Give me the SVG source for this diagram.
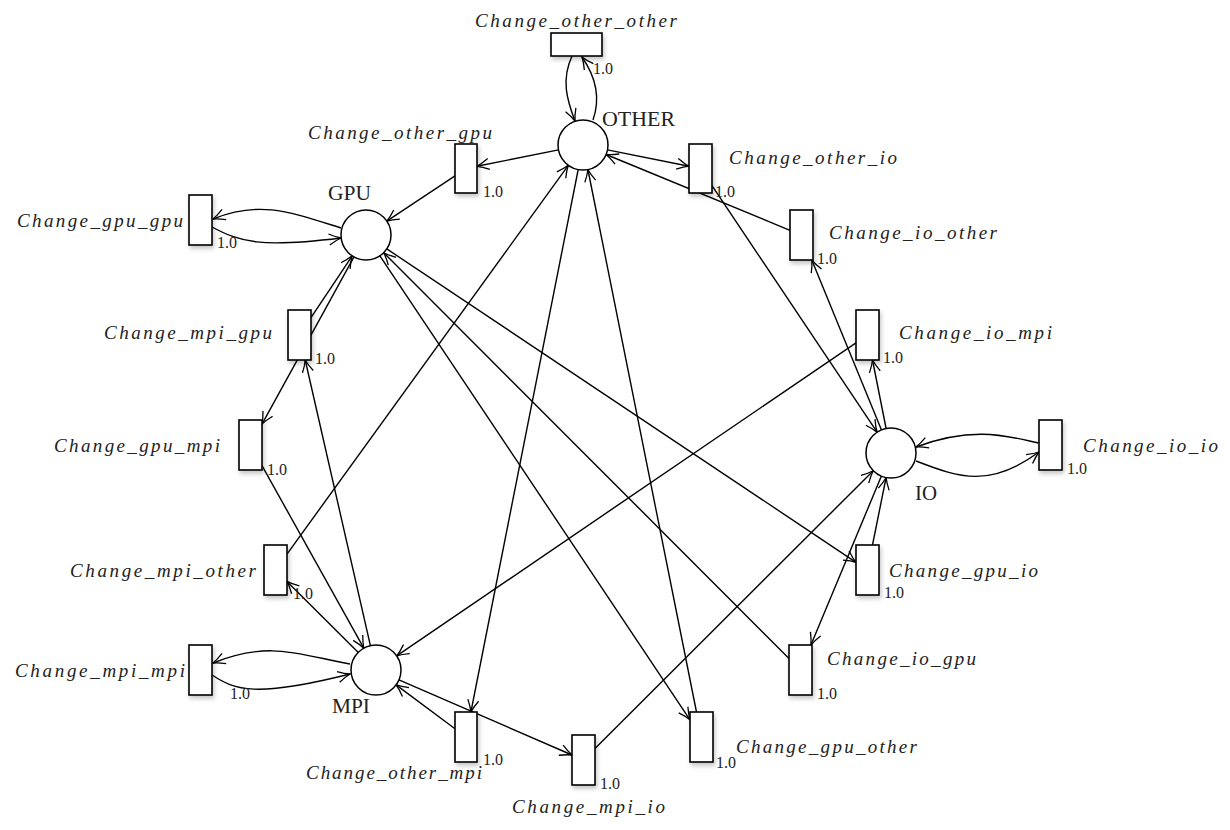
<svg xmlns="http://www.w3.org/2000/svg" width="1230" height="830" viewBox="0 0 1230 830">
<style>
.arc{fill:none;stroke:#000;stroke-width:1.4;marker-end:url(#arr)}
.pl{fill:#fff;stroke:#000;stroke-width:1.5}
.tr{fill:#fff;stroke:#000;stroke-width:1.6;filter:url(#sh)}
.lbl{font-family:"Liberation Serif","DejaVu Serif",serif;font-style:italic;font-size:19px;fill:#222}
.pn{font-family:"Liberation Serif","DejaVu Serif",serif;font-size:20px;fill:#222}
.w{font-family:"Liberation Serif","DejaVu Serif",serif;font-size:16px;fill:#222}
</style>
<defs>
<marker id="arr" markerUnits="userSpaceOnUse" markerWidth="20" markerHeight="20" refX="0" refY="0" orient="auto" overflow="visible">
<path d="M-12,-5.5 Q-5,-1.5 0,0 Q-5,1.5 -12,5.5" fill="none" stroke="#000" stroke-width="1.3"/>
</marker>
<filter id="sh" x="-40%" y="-30%" width="180%" height="160%">
<feDropShadow dx="1.5" dy="3" stdDeviation="2" flood-color="#000" flood-opacity="0.22"/>
</filter>
</defs>
<rect width="1230" height="830" fill="#fff"/>
<g id="connectors">
<path class="arc" d="M558.5,149.9 L477,166.3"/>
<path class="arc" d="M455,175.8 L386.8,221.2"/>
<path class="arc" d="M607.5,149.9 L689,166.2"/>
<path class="arc" d="M712,185.7 L877.1,432.2"/>
<path class="arc" d="M881.5,429.9 L811.8,260"/>
<path class="arc" d="M790,230.3 L606.1,154.5"/>
<path class="arc" d="M886.1,428.5 L872.5,360"/>
<path class="arc" d="M856,342.8 L396.7,655.9"/>
<path class="arc" d="M386.8,248.9 L856,562.3"/>
<path class="arc" d="M872.5,545 L886.1,477.5"/>
<path class="arc" d="M881.4,476.1 L810.9,645"/>
<path class="arc" d="M789,658.5 L383.7,252.7"/>
<path class="arc" d="M379.9,255.8 L690,719.8"/>
<path class="arc" d="M696.5,712 L587.9,169.5"/>
<path class="arc" d="M398.9,679.9 L572,755"/>
<path class="arc" d="M595,748.5 L873.3,470.7"/>
<path class="arc" d="M578.2,169.5 L470.9,712"/>
<path class="arc" d="M455,728.8 L396.1,684.9"/>
<path class="arc" d="M358.3,652.4 L287,581.4"/>
<path class="arc" d="M287,554.1 L568.3,165.3"/>
<path class="arc" d="M354,256.9 L262,424.1"/>
<path class="arc" d="M262,465.6 L363.8,648.2"/>
<path class="arc" d="M370.4,645.6 L305.2,360"/>
<path class="arc" d="M311,317.7 L352.2,255.8"/>
<path class="arc" d="M572,56 C561,80 567,100 575,121"/>
<path class="arc" d="M593,120 C600,100 598,80 582,57"/>
<path class="arc" d="M341,228 C290,212 260,200 213,219"/>
<path class="arc" d="M212,227 C240,242 260,248 341,238"/>
<path class="arc" d="M350,664 C300,655 270,640 213,663"/>
<path class="arc" d="M212,675 C235,690 255,698 350,674"/>
<path class="arc" d="M1039,443 C1010,437 975,425 916,447"/>
<path class="arc" d="M916,461 C960,478 990,488 1039,452"/>
</g>
<g id="OTHER"><circle class="pl" cx="583" cy="145" r="25"/><text class="pn" x="602" y="126" textLength="73" lengthAdjust="spacingAndGlyphs">OTHER</text></g>
<g id="GPU"><circle class="pl" cx="366" cy="235" r="25"/><text class="pn" x="328" y="200" textLength="43" lengthAdjust="spacingAndGlyphs">GPU</text></g>
<g id="IO"><circle class="pl" cx="891" cy="453" r="25"/><text class="pn" x="915" y="500" textLength="22" lengthAdjust="spacingAndGlyphs">IO</text></g>
<g id="MPI"><circle class="pl" cx="376" cy="670" r="25"/><text class="pn" x="332" y="713" textLength="38" lengthAdjust="spacingAndGlyphs">MPI</text></g>
<g id="Change_other_other"><rect class="tr" x="551" y="33" width="51" height="23"/><text class="lbl" x="475" y="27" textLength="202" lengthAdjust="spacing">Change_other_other</text><text class="w" x="593" y="74">1.0</text></g>
<g id="Change_other_gpu"><rect class="tr" x="455" y="144" width="22" height="49"/><text class="lbl" x="308" y="139" textLength="184" lengthAdjust="spacing">Change_other_gpu</text><text class="w" x="483" y="197">1.0</text></g>
<g id="Change_other_io"><rect class="tr" x="689" y="144" width="23" height="49"/><text class="lbl" x="729" y="164" textLength="168" lengthAdjust="spacing">Change_other_io</text><text class="w" x="715" y="197">1.0</text></g>
<g id="Change_io_other"><rect class="tr" x="790" y="210" width="23" height="50"/><text class="lbl" x="829" y="239" textLength="168" lengthAdjust="spacing">Change_io_other</text><text class="w" x="817" y="264">1.0</text></g>
<g id="Change_io_mpi"><rect class="tr" x="856" y="310" width="23" height="50"/><text class="lbl" x="899" y="339" textLength="153" lengthAdjust="spacing">Change_io_mpi</text><text class="w" x="883" y="363">1.0</text></g>
<g id="Change_io_io"><rect class="tr" x="1039" y="420" width="23" height="50"/><text class="lbl" x="1083" y="452" textLength="135" lengthAdjust="spacing">Change_io_io</text><text class="w" x="1067" y="474">1.0</text></g>
<g id="Change_gpu_io"><rect class="tr" x="856" y="545" width="23" height="50"/><text class="lbl" x="889" y="577" textLength="149" lengthAdjust="spacing">Change_gpu_io</text><text class="w" x="884" y="598">1.0</text></g>
<g id="Change_io_gpu"><rect class="tr" x="789" y="645" width="23" height="50"/><text class="lbl" x="827" y="665" textLength="149" lengthAdjust="spacing">Change_io_gpu</text><text class="w" x="817" y="699">1.0</text></g>
<g id="Change_gpu_other"><rect class="tr" x="690" y="712" width="23" height="50"/><text class="lbl" x="736" y="753" textLength="181" lengthAdjust="spacing">Change_gpu_other</text><text class="w" x="716" y="768">1.0</text></g>
<g id="Change_mpi_io"><rect class="tr" x="572" y="735" width="23" height="50"/><text class="lbl" x="512" y="813" textLength="153" lengthAdjust="spacing">Change_mpi_io</text><text class="w" x="600" y="789">1.0</text></g>
<g id="Change_other_mpi"><rect class="tr" x="455" y="712" width="22" height="50"/><text class="lbl" x="306" y="779" textLength="176" lengthAdjust="spacing">Change_other_mpi</text><text class="w" x="483" y="765">1.0</text></g>
<g id="Change_mpi_mpi"><rect class="tr" x="189" y="645" width="23" height="50"/><text class="lbl" x="15" y="677" textLength="170" lengthAdjust="spacing">Change_mpi_mpi</text><text class="w" x="230" y="699">1.0</text></g>
<g id="Change_mpi_other"><rect class="tr" x="264" y="545" width="23" height="50"/><text class="lbl" x="70" y="577" textLength="186" lengthAdjust="spacing">Change_mpi_other</text><text class="w" x="293" y="599">1.0</text></g>
<g id="Change_gpu_mpi"><rect class="tr" x="239" y="420" width="23" height="50"/><text class="lbl" x="54" y="452" textLength="166" lengthAdjust="spacing">Change_gpu_mpi</text><text class="w" x="267" y="475">1.0</text></g>
<g id="Change_mpi_gpu"><rect class="tr" x="288" y="310" width="23" height="50"/><text class="lbl" x="104" y="339" textLength="168" lengthAdjust="spacing">Change_mpi_gpu</text><text class="w" x="315" y="364">1.0</text></g>
<g id="Change_gpu_gpu"><rect class="tr" x="189" y="195" width="23" height="50"/><text class="lbl" x="17" y="227" textLength="166" lengthAdjust="spacing">Change_gpu_gpu</text><text class="w" x="217" y="248">1.0</text></g>
</svg>
